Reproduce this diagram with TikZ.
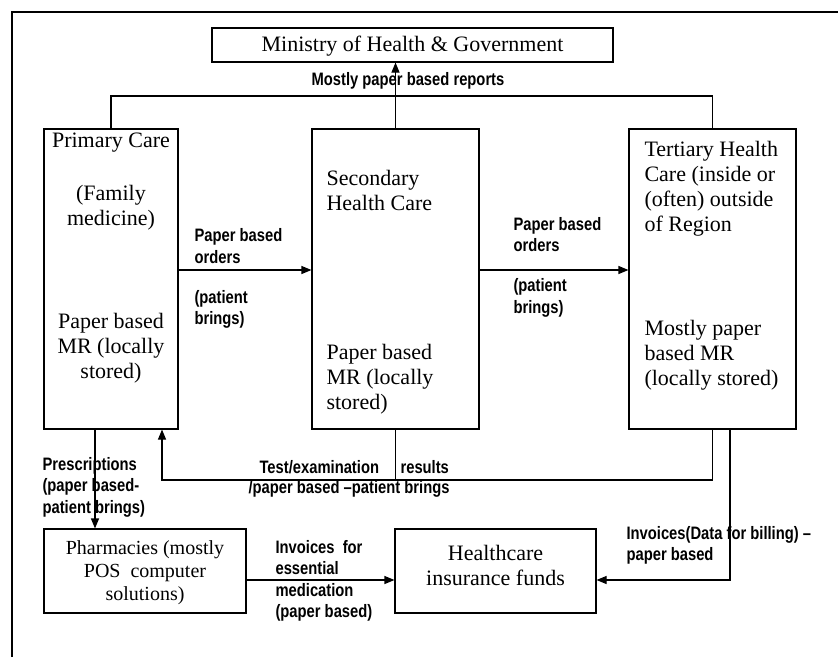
\documentclass[tikz,border=0pt]{standalone}
\usepackage{fontspec}
\setmainfont{Liberation Serif}
\newfontfamily\labfont{Liberation Sans}[FakeStretch=0.82]
\usetikzlibrary{arrows.meta}
\begin{document}
\begin{tikzpicture}[x=1pt,y=-1pt,
  line width=1.1pt,
  box/.style={draw, line width=1.1pt, inner sep=0pt, rectangle},
  serif/.style={font=\fontsize{22}{25}\selectfont, inner sep=0pt, align=center},
  serifl/.style={font=\fontsize{22}{25}\selectfont, inner sep=0pt, align=left, anchor=west},
  lab/.style={font=\labfont\bfseries\fontsize{18}{21.5}\selectfont, inner sep=0pt, align=left, anchor=west},
  arr/.style={-{Triangle[length=10pt,width=8pt]}},
]
\useasboundingbox (0,0) rectangle (838,657);
% outer frame
\coordinate (f1) at (12,657);
\coordinate (f2) at (12,12);
\coordinate (f3) at (838,12);
\draw (f1) -- (f2) -- (f3);

% boxes
\node[box, minimum width=401pt, minimum height=34pt] (min) at (412.5,45) {};
\node[serif] (mint) at (412.5,46) {Ministry of Health \& Government};
\node[box, minimum width=134pt, minimum height=300pt] (prim) at (111,279) {};
\node[box, minimum width=167pt, minimum height=300pt] (sec) at (395.5,279) {};
\node[box, minimum width=167pt, minimum height=300pt] (tert) at (712.5,279) {};
\node[box, minimum width=202pt, minimum height=84pt] (pharm) at (145,571) {};
\node[box, minimum width=201pt, minimum height=84pt] (ins) at (495.5,571) {};

% box texts
\node[serif] (p1) at (111,143) {Primary Care};
\node[serif] (p2) at (111,208) {(Family\\medicine)};
\node[serif] (p3) at (111,348) {Paper based\\MR (locally\\stored)};
\node[serifl] (s1) at (326,190) {Secondary\\Health Care};
\node[serifl] (s2) at (326,379) {Paper based\\MR (locally\\stored)};
\node[serifl] (t1) at (644,188.5) {Tertiary Health\\Care (inside or\\(often) outside\\of Region};
\node[serifl] (t2) at (644,355) {Mostly paper\\based MR\\(locally stored)};
\node[font=\fontsize{20}{23}\selectfont, align=center, inner sep=0pt] (pht) at (145,573) {Pharmacies (mostly\\POS\ \ computer\\solutions)};
\node[serif] (inst) at (495.5,565) {Healthcare\\insurance funds};

% helper coordinates
\coordinate (busy) at (0,96);
\coordinate (ordy) at (0,270);
\coordinate (rety) at (0,480);
\coordinate (retx) at (162,0);
\coordinate (rxx) at (95,0);
\coordinate (invx) at (730,0);
\coordinate (invy) at (0,580);

% connectors
\draw (prim.north) -- (prim.north |- busy) -- (tert.north |- busy) -- (tert.north);
\draw[arr] (sec.north) -- (min.south -| sec.north);
\draw[arr] (prim.east |- ordy) -- (sec.west |- ordy);
\draw[arr] (sec.east |- ordy) -- (tert.west |- ordy);
\draw[arr] (prim.south -| rxx) -- (pharm.north -| rxx);
\draw[arr] (tert.south) -- (tert.south |- rety) -- (retx |- rety) -- (prim.south -| retx);
\draw (sec.south) -- (sec.south |- rety);
\draw[arr] (tert.south -| invx) -- (invx |- invy) -- (ins.east |- invy);
\draw[arr] (pharm.east |- invy) -- (ins.west |- invy);

% labels
\node[lab, anchor=center, align=center] (rep) at (408,81) {Mostly paper based reports};
\node[lab] (o1) at (194,246) {Paper based\\orders};
\node[lab] (o2) at (194,309.5) {(patient\\brings)};
\node[lab] (o3) at (513,234.5) {Paper based\\orders};
\node[lab] (o4) at (513,298) {(patient\\brings)};
\node[lab] (pr) at (42,487) {Prescriptions\\(paper based-\\patient brings)};
\node[lab] (te) at (259,467) {Test/examination};
\node[lab] (re) at (400,467) {results};
\node[lab] (pb) at (248,489) {/paper based –patient brings};
\node[lab] (iv) at (275,581) {Invoices\ \ for\\essential\\medication\\(paper based)};
\node[lab] (ib) at (626,545.5) {Invoices(Data for billing) –\\paper based};
\end{tikzpicture}
\end{document}
